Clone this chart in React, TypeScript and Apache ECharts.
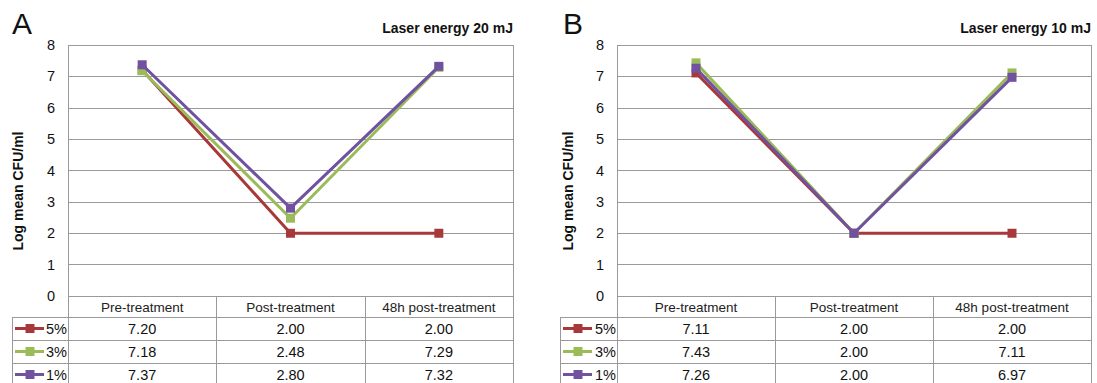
import React, { useEffect, useRef } from "react";
import * as echarts from "echarts";

const categories = ["Pre-treatment", "Post-treatment", "48h post-treatment"];
const seriesNames = ["5%", "3%", "1%"];
const seriesColors = ["#A8393B", "#9BBB59", "#7052A0"];

// Panel A: laser energy 20 mJ
const a5 = [7.2, 2.0, 2.0];
const a3 = [7.18, 2.48, 7.29];
const a1 = [7.37, 2.8, 7.32];
// Panel B: laser energy 10 mJ
const b5 = [7.11, 2.0, 2.0];
const b3 = [7.43, 2.0, 7.11];
const b1 = [7.26, 2.0, 6.97];

const yTitle = "Log mean CFU/ml";
const panelLetters = ["A", "B"];
const panelTitles = ["Laser energy 20 mJ", "Laser energy 10 mJ"];

const FONT = "'Liberation Sans', Arial, sans-serif";
const LINE = "#9a9a9a";

export default function App() {
  const ref = useRef<HTMLDivElement>(null);
  useEffect(() => {
    document.body.style.margin = "0";
    if (!ref.current) return;
    const chart = echarts.init(ref.current, null, { renderer: "svg" });

    const panels = [
      { gLeft: 68, gWidth: 445, legLeft: 12, letterX: 12, yTitleX: 18, data: [a5, a3, a1] },
      { gLeft: 617, gWidth: 474, legLeft: 560, letterX: 563, yTitleX: 568, data: [b5, b3, b1] },
    ];
    const gTop = 45;
    const gBottom = 296;
    const rowTops = [317, 340, 363];
    const rowH = 23;
    const pageBottom = 383;

    const grids: any[] = [];
    const xAxes: any[] = [];
    const yAxes: any[] = [];
    const series: any[] = [];
    const graphics: any[] = [];

    const hLine = (x1: number, x2: number, y: number) => ({
      type: "line",
      silent: true,
      shape: { x1, y1: y + 0.5, x2, y2: y + 0.5 },
      style: { stroke: LINE, lineWidth: 1 },
    });
    const vLine = (x: number, y1: number, y2: number) => ({
      type: "line",
      silent: true,
      shape: { x1: x + 0.5, y1, x2: x + 0.5, y2 },
      style: { stroke: LINE, lineWidth: 1 },
    });

    panels.forEach((p, pi) => {
      const gRight = p.gLeft + p.gWidth;
      grids.push({
        left: p.gLeft,
        top: gTop,
        width: p.gWidth,
        height: gBottom - gTop,
        containLabel: false,
      });
      xAxes.push({
        type: "category",
        gridIndex: pi,
        data: categories,
        boundaryGap: true,
        axisLine: { show: false },
        axisTick: { show: false },
        axisLabel: {
          interval: 0,
          margin: 4,
          fontFamily: FONT,
          fontSize: 13.5,
          color: "#222",
        },
      });
      yAxes.push({
        type: "value",
        gridIndex: pi,
        min: 0,
        max: 8,
        interval: 1,
        axisLine: { show: false },
        axisTick: { show: false },
        splitLine: { lineStyle: { color: LINE, width: 1 } },
        axisLabel: { margin: 13, fontFamily: FONT, fontSize: 14.5, color: "#111" },
      });
      p.data.forEach((vals, si) => {
        series.push({
          type: "line",
          name: seriesNames[si] + "-" + pi,
          xAxisIndex: pi,
          yAxisIndex: pi,
          data: vals,
          symbol: "rect",
          symbolSize: 9,
          showSymbol: true,
          itemStyle: { color: seriesColors[si] },
          lineStyle: { color: seriesColors[si], width: 3 },
          z: 3 + si,
        });
      });

      // y-axis title
      graphics.push({
        type: "text",
        x: p.yTitleX,
        y: 191,
        rotation: Math.PI / 2,
        silent: true,
        style: {
          text: yTitle,
          font: `bold 14px ${FONT}`,
          fill: "#111",
          align: "center",
          verticalAlign: "middle",
        },
      });
      // panel letter and title
      graphics.push({
        type: "text",
        left: p.letterX,
        top: 8,
        silent: true,
        style: { text: panelLetters[pi], font: `30px ${FONT}`, fill: "#111" },
      });
      graphics.push({
        type: "text",
        x: gRight,
        y: 28,
        silent: true,
        style: {
          text: panelTitles[pi],
          font: `bold 14px ${FONT}`,
          fill: "#111",
          align: "right",
          verticalAlign: "middle",
        },
      });

      // table lines
      graphics.push(hLine(p.gLeft, gRight, gBottom));
      rowTops.forEach((y) => graphics.push(hLine(p.legLeft, gRight, y)));
      graphics.push(vLine(p.gLeft, gTop, pageBottom));
      graphics.push(vLine(gRight, gTop, pageBottom));
      graphics.push(vLine(p.legLeft, rowTops[0], pageBottom));
      const colW = p.gWidth / categories.length;
      for (let c = 1; c < categories.length; c++) {
        graphics.push(vLine(Math.round(p.gLeft + c * colW), gBottom, pageBottom));
      }

      // table rows
      p.data.forEach((vals, si) => {
        const cy = rowTops[si] + rowH / 2;
        graphics.push({
          type: "line",
          silent: true,
          shape: { x1: p.legLeft + 3, y1: cy, x2: p.legLeft + 32, y2: cy },
          style: { stroke: seriesColors[si], lineWidth: 3 },
        });
        graphics.push({
          type: "rect",
          silent: true,
          shape: { x: p.legLeft + 13.5, y: cy - 4.5, width: 9, height: 9 },
          style: { fill: seriesColors[si] },
        });
        graphics.push({
          type: "text",
          x: p.gLeft - 1,
          y: cy,
          silent: true,
          style: {
            text: seriesNames[si],
            font: `14.5px ${FONT}`,
            fill: "#111",
            align: "right",
            verticalAlign: "middle",
          },
        });
        vals.forEach((v, ci) => {
          graphics.push({
            type: "text",
            x: p.gLeft + (ci + 0.5) * colW,
            y: cy,
            silent: true,
            style: {
              text: v.toFixed(2),
              font: `14.5px ${FONT}`,
              fill: "#111",
              align: "center",
              verticalAlign: "middle",
            },
          });
        });
      });
    });

    chart.setOption({
      animation: false,
      backgroundColor: "#fff",
      grid: grids,
      xAxis: xAxes,
      yAxis: yAxes,
      series,
      graphic: graphics,
    });
    return () => chart.dispose();
  }, []);
  return <div ref={ref} style={{ width: 1097, height: 383 }} />;
}
